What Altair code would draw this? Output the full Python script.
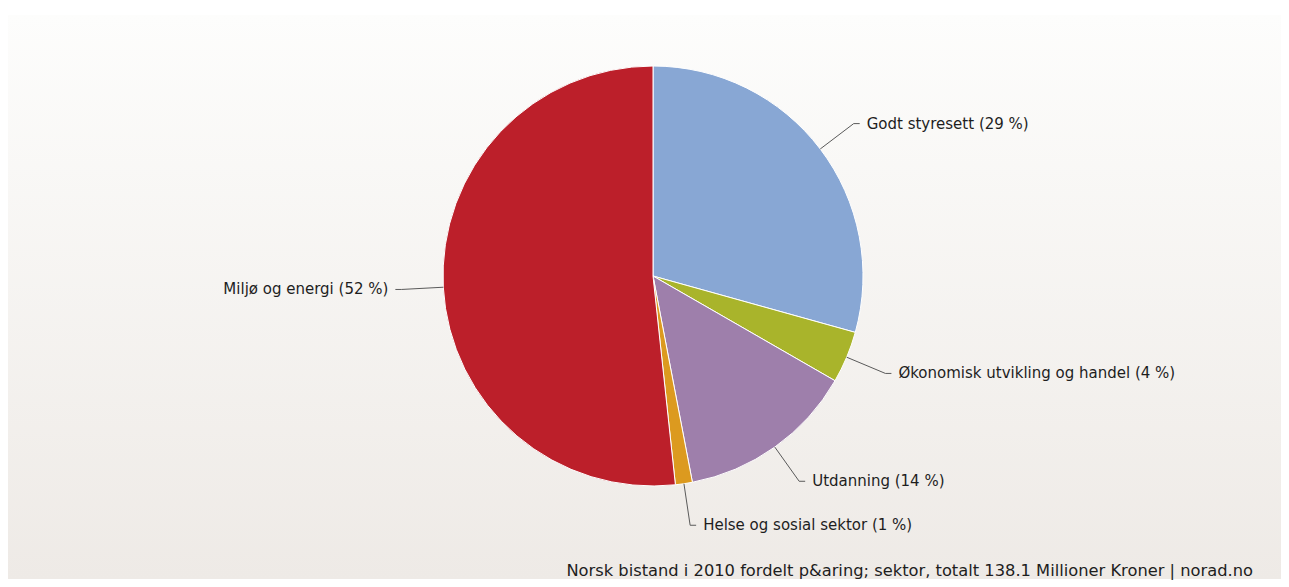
import altair as alt
import pandas as pd

categories = ["Godt styresett", "Økonomisk utvikling og handel", "Utdanning",
              "Helse og sosial sektor", "Miljø og energi"]
values = [40.5, 5.5, 18.9, 1.8, 71.4]  # millioner kroner
colors = ["#88a7d4", "#a9b42b", "#9e7fab", "#dc9a1f", "#bc1f2a"]
footer = "Norsk bistand i 2010 fordelt p&aring; sektor, totalt 138.1 Millioner Kroner | norad.no"

W, H = 1273, 571
CX, CY, R, R2 = 645, 268, 210, 252

df = pd.DataFrame({"name": categories, "value": values, "idx": list(range(len(values)))})

base = alt.Chart(df).transform_joinaggregate(
    total="sum(value)"
).transform_window(
    cum="sum(value)", sort=[alt.SortField("idx")], frame=[None, 0]
).transform_calculate(
    mid="(datum.cum - datum.value / 2) / datum.total * 2 * PI",
    pct="round(datum.value / datum.total * 100)",
).transform_calculate(
    label="datum.name + ' (' + datum.pct + ' %)'",
    ex=f"{CX} + {R} * sin(datum.mid)",
    ey=f"{CY} - {R} * cos(datum.mid)",
    bx=f"{CX} + {R2} * sin(datum.mid)",
    by=f"{CY} - {R2} * cos(datum.mid)",
    right="sin(datum.mid) >= 0",
).transform_calculate(
    hx="datum.right ? datum.bx + 6 : datum.bx - 6",
    tx="datum.right ? datum.bx + 13 : datum.bx - 13",
)

bg = alt.Chart(pd.DataFrame({"a": [0]})).mark_rect(
    fill=alt.LinearGradient(
        gradient="linear",
        stops=[alt.GradientStop(color="#fdfdfc", offset=0),
               alt.GradientStop(color="#eeeae6", offset=1)],
        x1=0, x2=0, y1=0, y2=1,
    )
).encode(x=alt.value(0), x2=alt.value(W), y=alt.value(7), y2=alt.value(H))

pie = alt.Chart(df).mark_arc(radius=R, stroke="white", strokeWidth=1).encode(
    theta=alt.Theta("value:Q", stack=True),
    order=alt.Order("idx:Q"),
    color=alt.Color("name:N", scale=alt.Scale(domain=categories, range=colors), legend=None),
    x=alt.value(CX), y=alt.value(CY),
)

ln1 = base.mark_rule(color="#5a5a5a", strokeWidth=1).encode(
    x=alt.X("ex:Q", scale=None, axis=None), y=alt.Y("ey:Q", scale=None, axis=None),
    x2="bx:Q", y2="by:Q",
)
ln2 = base.mark_rule(color="#5a5a5a", strokeWidth=1).encode(
    x=alt.X("bx:Q", scale=None, axis=None), y=alt.Y("by:Q", scale=None, axis=None),
    x2="hx:Q", y2="by:Q",
)
font = "DejaVu Sans"
txt_r = base.transform_filter("datum.right").mark_text(
    align="left", baseline="middle", font=font, fontSize=15, color="#1e1e1e"
).encode(x=alt.X("tx:Q", scale=None, axis=None), y=alt.Y("by:Q", scale=None, axis=None), text="label:N")
txt_l = base.transform_filter("!datum.right").mark_text(
    align="right", baseline="middle", font=font, fontSize=15, color="#1e1e1e"
).encode(x=alt.X("tx:Q", scale=None, axis=None), y=alt.Y("by:Q", scale=None, axis=None), text="label:N")

foot = alt.Chart(pd.DataFrame({"t": [footer]})).mark_text(
    align="right", baseline="alphabetic", font=font, fontSize=16.3, color="#1e1e1e"
).encode(x=alt.value(1245), y=alt.value(568), text="t:N")

chart = alt.layer(bg, pie, ln1, ln2, txt_r, txt_l, foot).properties(
    width=W, height=H, padding=0, background="white"
).configure_view(stroke=None)

chart.save("out.html", embed_options={"renderer": "svg", "actions": False})
